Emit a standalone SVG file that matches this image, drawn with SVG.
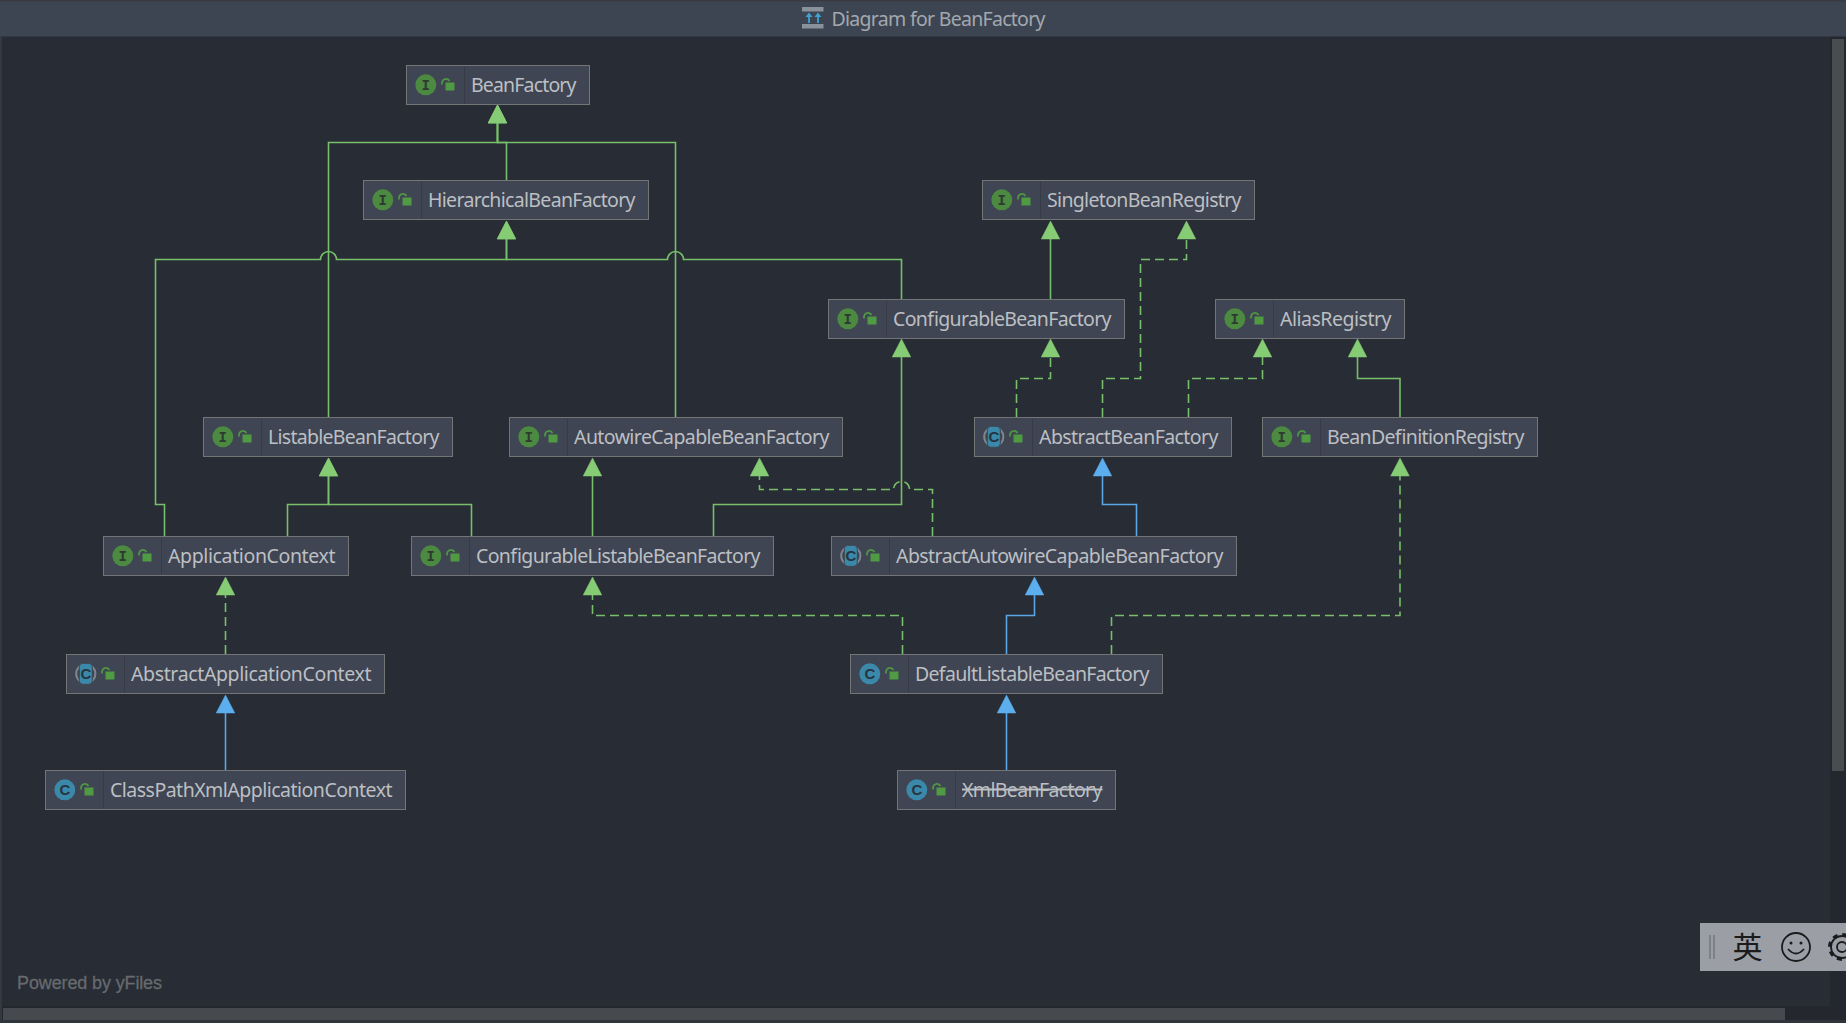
<svg xmlns="http://www.w3.org/2000/svg" width="1846" height="1023" viewBox="0 0 1846 1023">
<style>
.bx{fill:#3f4552;stroke:#727476;stroke-width:1}
.dv{stroke:#363b46;stroke-width:1}
.lb{font:19.5px "Noto Sans","Liberation Sans",sans-serif;fill:#bcbfc3}
.ii{font:bold 14px "Liberation Mono",monospace;fill:#2e3a30;text-anchor:middle}
.ci{font:bold 15px "Liberation Sans",sans-serif;fill:#27343f;text-anchor:middle}
.e{fill:none;stroke-width:1.6}
.g{stroke:#77bf6a;marker-end:url(#ag)}
.b{stroke:#5aa6e6;marker-end:url(#ab)}
.d{stroke-dasharray:9 5}
</style>
<defs>
<marker id="ag" markerUnits="userSpaceOnUse" viewBox="-1 -1 20 20" markerWidth="20" markerHeight="20" refX="0" refY="9" orient="auto"><polygon points="0,-0.3 18,9 0,18.3" fill="#86cc74" stroke="#86cc74" stroke-width=".5"/></marker>
<marker id="ab" markerUnits="userSpaceOnUse" viewBox="-1 -1 20 20" markerWidth="20" markerHeight="20" refX="0" refY="9" orient="auto"><polygon points="0,-0.3 18,9 0,18.3" fill="#5caeee" stroke="#5caeee" stroke-width=".5"/></marker>
<g id="lock"><rect x="39" y="17" width="9" height="8" fill="#4f9a43"/><path d="M35.5,19V17A4,4 0 0 1 43,15.5" fill="none" stroke="#4f9a43" stroke-width="1.7"/></g>
<g id="ifc"><circle cx="19.3" cy="19.3" r="10.5" fill="#4b8a40"/><text class="ii" x="19.3" y="24">I</text><use href="#lock"/><line class="dv" x1="58" y1="1" x2="58" y2="38"/></g>
<g id="cls"><circle cx="19.3" cy="19.3" r="10.5" fill="#3a89aa"/><text class="ci" x="19.3" y="24.5">C</text><use href="#lock"/><line class="dv" x1="58" y1="1" x2="58" y2="38"/></g>
<g id="abs"><circle cx="19.3" cy="19.3" r="9.6" fill="none" stroke="#80868e" stroke-width="2"/><rect x="12.8" y="8.8" width="13" height="21" rx="3.5" fill="#3a89aa" stroke="#3f4552" stroke-width="1"/><text class="ci" x="19.3" y="24.5">C</text><use href="#lock"/><line class="dv" x1="58" y1="1" x2="58" y2="38"/></g>
</defs>

<rect width="1846" height="1023" fill="#282c34"/>
<rect x="1830" y="36" width="16" height="987" fill="#24272e"/>
<rect x="0" y="1006" width="1846" height="17" fill="#24272e"/>
<rect x="0" y="36" width="2" height="987" fill="#34383f"/>
<rect x="0" y="1020" width="1846" height="3" fill="#30343b"/>
<rect x="1832" y="39" width="12" height="732" fill="#4a4d50"/>
<rect x="3" y="1008" width="1782" height="12" fill="#46494d"/>

<g id="titlebar">
<rect width="1846" height="36.5" fill="#3e4552"/>
<rect width="1846" height="1.5" fill="#383b41"/>
<rect x="802" y="7" width="21.5" height="4.5" fill="#89919b"/>
<rect x="802" y="24" width="21.5" height="4.5" fill="#89919b"/>
<path d="M809,23V15M818,23V15" stroke="#3ea3cf" stroke-width="1.8" fill="none"/>
<path d="M805.5,17L809,12.5L812.5,17ZM814.5,17L818,12.5L821.5,17Z" fill="#3ea3cf"/>
<text x="831.5" y="25.5" textLength="214" style="font:19.5px 'Noto Sans','Liberation Sans',sans-serif;fill:#a2a8af">Diagram for BeanFactory</text>
</g>

<g id="connectors">
<path class="e g" d="M328.5,417V142.5H497.5V123"/>
<path class="e g" d="M675.5,417V142.5H497.5V123"/>
<path class="e g" d="M506.5,180V142.5H497.5V123"/>
<path class="e g" d="M164.5,536V504.5H155.5V259.5H320.5A8,8 0 0 1 336.5,259.5H506.5V239"/>
<path class="e g" d="M901.5,299V259.5H683.5A8,8 0 0 0 667.5,259.5H506.5V239"/>
<path class="e g" d="M1050.5,299V239"/>
<path class="e g d" d="M1102.5,417V378.5H1140.5V259.5H1186.5V239"/>
<path class="e g d" d="M1016.5,417V378.5H1050.5V357"/>
<path class="e g d" d="M1188.5,417V378.5H1262.5V357"/>
<path class="e g" d="M1400,417V378.5H1357.5V357"/>
<path class="e g" d="M287.5,536V504.5H328.5V476"/>
<path class="e g" d="M471.5,536V504.5H328.5V476"/>
<path class="e g" d="M592.5,536V476"/>
<path class="e g" d="M713.5,536V504.5H901.5V357"/>
<path class="e g d" d="M932.5,536V489.5H909.5A8,8 0 0 0 893.5,489.5H759.5V476"/>
<path class="e b" d="M1136.5,536V504.5H1102.5V476"/>
<path class="e g d" d="M902.5,654V615.5H592.5V595"/>
<path class="e b" d="M1006.5,654V615.5H1034.5V595"/>
<path class="e g d" d="M1111.5,654V615.5H1400V476"/>
<path class="e g d" d="M225.5,654V595"/>
<path class="e b" d="M225.5,770V713"/>
<path class="e b" d="M1006.5,770V713"/>
</g>

<g id="BeanFactory" transform="translate(406.5 65.5)"><rect class="bx" width="183" height="39"/><use href="#ifc"/><text class="lb" x="64.5" y="26" textLength="105.5">BeanFactory</text></g>
<g id="HierarchicalBeanFactory" transform="translate(363.5 180.5)"><rect class="bx" width="285" height="39"/><use href="#ifc"/><text class="lb" x="64.5" y="26" textLength="207.5">HierarchicalBeanFactory</text></g>
<g id="SingletonBeanRegistry" transform="translate(982.5 180.5)"><rect class="bx" width="272" height="39"/><use href="#ifc"/><text class="lb" x="64.5" y="26" textLength="194.5">SingletonBeanRegistry</text></g>
<g id="ConfigurableBeanFactory" transform="translate(828.5 299.5)"><rect class="bx" width="296" height="39"/><use href="#ifc"/><text class="lb" x="64.5" y="26" textLength="218.5">ConfigurableBeanFactory</text></g>
<g id="AliasRegistry" transform="translate(1215.5 299.5)"><rect class="bx" width="189" height="39"/><use href="#ifc"/><text class="lb" x="64.5" y="26" textLength="111.5">AliasRegistry</text></g>
<g id="ListableBeanFactory" transform="translate(203.5 417.5)"><rect class="bx" width="249" height="39"/><use href="#ifc"/><text class="lb" x="64.5" y="26" textLength="171.5">ListableBeanFactory</text></g>
<g id="AutowireCapableBeanFactory" transform="translate(509.5 417.5)"><rect class="bx" width="333" height="39"/><use href="#ifc"/><text class="lb" x="64.5" y="26" textLength="255.5">AutowireCapableBeanFactory</text></g>
<g id="AbstractBeanFactory" transform="translate(974.5 417.5)"><rect class="bx" width="257" height="39"/><use href="#abs"/><text class="lb" x="64.5" y="26" textLength="179.5">AbstractBeanFactory</text></g>
<g id="BeanDefinitionRegistry" transform="translate(1262.5 417.5)"><rect class="bx" width="275" height="39"/><use href="#ifc"/><text class="lb" x="64.5" y="26" textLength="197.5">BeanDefinitionRegistry</text></g>
<g id="ApplicationContext" transform="translate(103.5 536.5)"><rect class="bx" width="245" height="39"/><use href="#ifc"/><text class="lb" x="64.5" y="26" textLength="167.5">ApplicationContext</text></g>
<g id="ConfigurableListableBeanFactory" transform="translate(411.5 536.5)"><rect class="bx" width="362" height="39"/><use href="#ifc"/><text class="lb" x="64.5" y="26" textLength="284.5">ConfigurableListableBeanFactory</text></g>
<g id="AbstractAutowireCapableBeanFactory" transform="translate(831.5 536.5)"><rect class="bx" width="405" height="39"/><use href="#abs"/><text class="lb" x="64.5" y="26" textLength="327.5">AbstractAutowireCapableBeanFactory</text></g>
<g id="AbstractApplicationContext" transform="translate(66.5 654.5)"><rect class="bx" width="318" height="39"/><use href="#abs"/><text class="lb" x="64.5" y="26" textLength="240.5">AbstractApplicationContext</text></g>
<g id="DefaultListableBeanFactory" transform="translate(850.5 654.5)"><rect class="bx" width="312" height="39"/><use href="#cls"/><text class="lb" x="64.5" y="26" textLength="234.5">DefaultListableBeanFactory</text></g>
<g id="ClassPathXmlApplicationContext" transform="translate(45.5 770.5)"><rect class="bx" width="360" height="39"/><use href="#cls"/><text class="lb" x="64.5" y="26" textLength="282.5">ClassPathXmlApplicationContext</text></g>
<g id="XmlBeanFactory" transform="translate(897.5 770.5)"><rect class="bx" width="218" height="39"/><use href="#cls"/><text class="lb" x="64.5" y="26" textLength="140.5" text-decoration="line-through">XmlBeanFactory</text></g>

<text x="17" y="989" textLength="145" style="font:18px 'Liberation Sans',sans-serif;fill:#666a6e;stroke:#666a6e;stroke-width:.3">Powered by yFiles</text>

<g id="ime">
<rect x="1700" y="923" width="146" height="48" fill="#9b9ea5"/>
<path d="M1710,935V959M1714,935V959" stroke="#74777d" stroke-width="1.5"/>
<text x="1747.5" y="958" text-anchor="middle" style="font:30px 'Noto Sans CJK SC',sans-serif;fill:#1b1b1d">英</text>
<circle cx="1796" cy="947" r="14" fill="none" stroke="#1b1b1d" stroke-width="1.8"/>
<circle cx="1791" cy="943" r="1.5" fill="#1b1b1d"/><circle cx="1801" cy="943" r="1.5" fill="#1b1b1d"/>
<path d="M1788,949Q1796,958 1804,949" fill="none" stroke="#1b1b1d" stroke-width="1.8"/>
<circle cx="1842" cy="947" r="5" fill="none" stroke="#1b1b1d" stroke-width="1.8"/>
<circle cx="1842" cy="947" r="11" fill="none" stroke="#1b1b1d" stroke-width="1.8"/>
<circle cx="1842" cy="947" r="12.5" fill="none" stroke="#1b1b1d" stroke-width="3" stroke-dasharray="5 4.8"/>
</g>
</svg>
